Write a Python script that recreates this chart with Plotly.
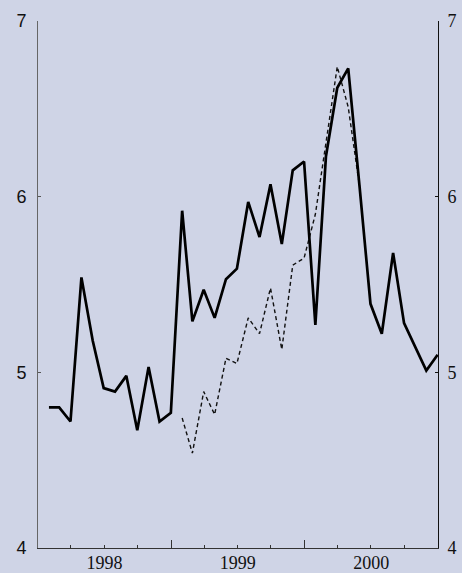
import pandas as pd
import plotly.graph_objects as go

# Monthly observations, Jan 1998 - Dec 2000 (plotted at month end)
months = pd.date_range("1998-01-01", periods=36, freq="MS") + pd.offsets.MonthEnd(0)
solid_values = [4.80, 4.80, 4.72, 5.54, 5.18, 4.91, 4.89, 4.98, 4.67, 5.03, 4.72, 4.77,
                5.92, 5.29, 5.47, 5.31, 5.53, 5.59, 5.97, 5.77, 6.07, 5.73, 6.15, 6.20,
                5.27, 6.23, 6.62, 6.73, 6.06, 5.39, 5.22, 5.68, 5.28, 5.14, 5.01, 5.10]

# Dotted series, Jan 1999 - May 2000
dotted_months = months[12:29]
dotted_values = [4.74, 4.54, 4.89, 4.76, 5.08, 5.05, 5.31, 5.22, 5.48, 5.13, 5.61, 5.65,
                 5.90, 6.32, 6.74, 6.51, 6.06]

year_label_pos = ["1998-07-02", "1999-07-02", "2000-07-02"]
year_labels = ["1998", "1999", "2000"]
year_ticks = ["1999-01-01", "2000-01-01"]
quarter_ticks = ["1998-04-01", "1998-07-01", "1998-10-01",
                 "1999-04-01", "1999-07-01", "1999-10-01",
                 "2000-04-01", "2000-07-01", "2000-10-01"]
y_ticks = [4, 5, 6, 7]

bg = "#cfd4e6"
serif = dict(family="Liberation Serif, Times New Roman, serif", size=18, color="#111111")
sans = dict(family="Liberation Sans, Arial, sans-serif", size=18, color="#111111")

fig = go.Figure()
fig.add_trace(go.Scatter(x=dotted_months, y=dotted_values, mode="lines",
                         line=dict(color="#111111", width=1.4, dash="4px,3px"),
                         showlegend=False, hoverinfo="skip"))
fig.add_trace(go.Scatter(x=months, y=solid_values, mode="lines",
                         line=dict(color="#000000", width=2.7),
                         showlegend=False, hoverinfo="skip"))
# invisible trace to activate the secondary axes
fig.add_trace(go.Scatter(x=months, y=solid_values, xaxis="x2", yaxis="y2", mode="lines",
                         line=dict(color="rgba(0,0,0,0)", width=0),
                         showlegend=False, hoverinfo="skip"))

xr = ["1998-01-01", "2001-01-01"]
fig.update_layout(
    width=462, height=573,
    margin=dict(l=38, r=24, t=21, b=25, autoexpand=False),
    paper_bgcolor=bg, plot_bgcolor=bg,
    font=serif,
    xaxis=dict(type="date", range=xr, tickvals=year_label_pos, ticktext=year_labels,
               ticks="", showgrid=False, zeroline=False, showline=True,
               linecolor="#333333", linewidth=1, tickfont=serif, ticklabelstandoff=-2,
               minor=dict(tickvals=quarter_ticks, ticks="inside", ticklen=3,
                          tickcolor="#333333", showgrid=False)),
    xaxis2=dict(type="date", range=xr, overlaying="x", side="bottom", anchor="y2",
                tickvals=year_ticks, ticks="inside", ticklen=8, tickcolor="#333333",
                showticklabels=False, showgrid=False, zeroline=False, showline=False),
    yaxis=dict(range=[4, 7], tickvals=y_ticks, ticks="inside", ticklen=3,
               tickcolor="#555555", showgrid=False, zeroline=False, showline=True,
               linecolor="#666666", linewidth=1, ticklabelstandoff=7, tickfont=sans),
    yaxis2=dict(range=[4, 7], tickvals=y_ticks, ticks="inside", ticklen=3,
                tickcolor="#111111", overlaying="y", side="right", anchor="x2",
                showticklabels=True, ticklabelstandoff=5, tickfont=serif,
                showgrid=False, zeroline=False, showline=True,
                linecolor="#111111", linewidth=1),
)

fig.write_html("out.html", config={"displayModeBar": False},
               post_script="document.body.style.margin='0';document.body.style.background='%s';" % bg)
